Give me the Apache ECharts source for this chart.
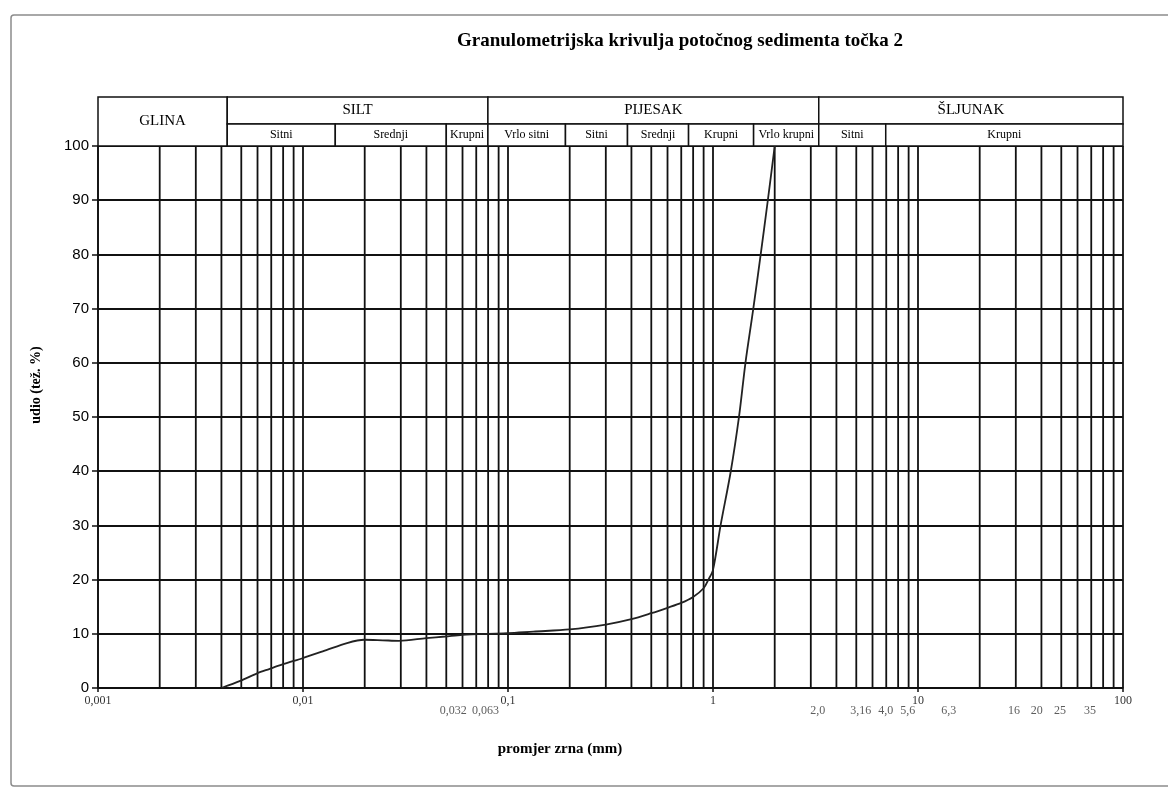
<!DOCTYPE html>
<html>
<head>
<meta charset="utf-8">
<script src="https://cdn.jsdelivr.net/npm/echarts@6/dist/echarts.min.js"></script>
<style>
  html, body { margin: 0; padding: 0; background: #fff; }
  #chart { width: 1168px; height: 789px; }
</style>
</head>
<body>
<div id="chart"></div>
<script>
// Grain size curve (mm -> cumulative wt. %)
const grainSize = [0.004, 0.00494, 0.00597, 0.00684, 0.008, 0.009, 0.0098, 0.013, 0.0164, 0.0199, 0.0245, 0.0294, 0.0399, 0.0494, 0.0599, 0.0794, 0.1, 0.133, 0.2, 0.3, 0.4, 0.5, 0.6, 0.7, 0.8, 0.9, 0.95, 1.0, 1.09, 1.22, 1.34, 1.44, 1.57, 1.71, 1.85, 2.0];
const passing = [0, 1.3, 2.7, 3.5, 4.4, 5.0, 5.4, 7.0, 8.3, 8.9, 8.8, 8.7, 9.2, 9.5, 9.8, 10.0, 10.1, 10.4, 10.8, 11.7, 12.7, 13.8, 14.8, 15.7, 16.8, 18.4, 20.0, 21.8, 30.1, 39.9, 50.1, 60.0, 69.8, 80.1, 89.9, 100];

// Extra size labels under the axis (text, and where they sit on the mm axis)
const extraLabelText = ['0,032', '0,063', '2,0', '3,16', '4,0', '5,6', '6,3', '16', '20', '25', '35'];
const extraLabelAt = [0.0541, 0.0776, 3.24, 5.26, 6.96, 8.92, 14.14, 29.4, 38.0, 49.3, 69.0];

// Header table: soil classes and subclasses with their bounds in mm
const mainClasses = ['GLINA', 'SILT', 'PIJESAK', 'ŠLJUNAK'];
const mainBounds = [0.001, 0.00427, 0.0798, 3.28, 100];
const subClasses = ['Sitni', 'Srednji', 'Krupni', 'Vrlo sitni', 'Sitni', 'Srednji', 'Krupni', 'Vrlo krupni', 'Sitni', 'Krupni'];
const subBounds = [0.00427, 0.01437, 0.05, 0.0798, 0.1907, 0.3828, 0.76, 1.578, 3.28, 6.96, 100];

// Vertical log grid: 1..9 in every decade
const logGrid = [];
for (let d = -3; d <= 1; d++) {
  for (let k = 1; k <= 9; k++) logGrid.push(+(k * Math.pow(10, d)).toPrecision(3));
}
logGrid.push(100);

const SERIF = '"Liberation Serif", "DejaVu Serif", serif';
const SANS = '"Liberation Sans", Arial, sans-serif';
const LINE = '#111';

const GRID = { left: 98, right: 45, top: 146, bottom: 101 };
const ROW1_H = 27;  // class row
const ROW2_H = 22;  // subclass row

// header cells built from the class arrays
const headerCells = [];
mainClasses.forEach((name, i) => {
  const full = mainBounds[i + 1] <= subBounds[0];
  headerCells.push({ x0: mainBounds[i], x1: mainBounds[i + 1], row: full ? 2 : 0, text: name });
});
subClasses.forEach((name, i) => {
  headerCells.push({ x0: subBounds[i], x1: subBounds[i + 1], row: 1, text: name });
});

function fmtNum(v) {
  return String(+v.toPrecision(6)).replace('.', ',');
}

const chart = echarts.init(document.getElementById('chart'), null, { renderer: 'canvas' });

const option = {
  backgroundColor: '#fff',
  animation: false,
  grid: GRID,
  xAxis: {
    type: 'log',
    logBase: 10,
    min: 0.001,
    max: 100,
    splitNumber: 5,
    axisLine: { lineStyle: { color: LINE, width: 1.5 } },
    axisTick: { show: true, length: 4, lineStyle: { color: LINE, width: 1.5 } },
    axisLabel: {
      margin: 7,
      fontFamily: SERIF,
      fontSize: 12,
      color: '#333',
      formatter: v => fmtNum(v)
    },
    splitLine: { show: false }
  },
  yAxis: {
    type: 'value',
    min: 0,
    max: 100,
    interval: 10,
    axisLine: { show: true, lineStyle: { color: LINE, width: 1.5 } },
    axisTick: { show: true, length: 6, lineStyle: { color: LINE, width: 1.5 } },
    axisLabel: { margin: 9, fontFamily: SANS, fontSize: 15, color: '#000' },
    splitLine: { lineStyle: { color: LINE, width: 1.8 } }
  },
  graphic: [
    {
      type: 'rect',
      shape: { x: 11, y: 15, width: 1180, height: 771, r: 3 },
      style: { fill: 'none', stroke: '#8c8c8c', lineWidth: 1.5 },
      silent: true
    },
    {
      type: 'text',
      style: {
        text: 'Granulometrijska krivulja potočnog sedimenta točka 2',
        x: 680, y: 41, align: 'center', verticalAlign: 'middle',
        font: 'bold 19px ' + SERIF, fill: '#000'
      }
    },
    {
      type: 'text',
      style: {
        text: 'promjer zrna (mm)',
        x: 560, y: 749, align: 'center', verticalAlign: 'middle',
        font: 'bold 15px ' + SERIF, fill: '#000'
      }
    },
    {
      type: 'text',
      x: 36, y: 385, rotation: Math.PI / 2,
      style: {
        text: 'udio (tež. %)',
        x: 0, y: 0, align: 'center', verticalAlign: 'middle',
        font: 'bold 14px ' + SERIF, fill: '#000'
      }
    }
  ],
  series: [
    // vertical log grid lines
    {
      name: 'mreža',
      type: 'custom',
      silent: true,
      z: 1,
      data: logGrid.map(v => [v]),
      renderItem: (params, api) => {
        const v = api.value(0);
        const a = api.coord([v, 0]);
        const b = api.coord([v, 100]);
        return {
          type: 'line',
          shape: { x1: a[0], y1: a[1], x2: b[0], y2: b[1] },
          style: { stroke: LINE, lineWidth: 1.8 }
        };
      }
    },
    // grain size curve
    {
      name: 'krivulja',
      type: 'line',
      data: grainSize.map((x, i) => [x, passing[i]]),
      symbol: 'none',
      smooth: 0.3,
      z: 5,
      lineStyle: { color: '#222', width: 1.8 }
    },
    // extra size labels below the axis
    {
      name: 'oznake',
      type: 'scatter',
      data: extraLabelAt.map(x => [x, 0]),
      symbolSize: 1,
      itemStyle: { color: 'transparent' },
      silent: true,
      label: {
        show: true,
        position: 'bottom',
        distance: 16,
        fontFamily: SERIF,
        fontSize: 12,
        color: '#333',
        formatter: p => extraLabelText[p.dataIndex]
      }
    },
    // header table above the plot
    {
      name: 'zaglavlje',
      type: 'custom',
      clip: false,
      silent: true,
      data: headerCells.map(c => [c.x0, c.x1, c.row]),
      renderItem: (params, api) => {
        const c = headerCells[params.dataIndex];
        const p0 = api.coord([c.x0, 100]);
        const p1 = api.coord([c.x1, 100]);
        let y, h, font;
        if (c.row === 0) { y = p0[1] - ROW1_H - ROW2_H; h = ROW1_H; font = '15px ' + SERIF; }
        else if (c.row === 2) { y = p0[1] - ROW1_H - ROW2_H; h = ROW1_H + ROW2_H; font = '15px ' + SERIF; }
        else { y = p0[1] - ROW2_H; h = ROW2_H; font = '12px ' + SERIF; }
        return {
          type: 'group',
          children: [
            {
              type: 'rect',
              shape: { x: p0[0], y: y, width: p1[0] - p0[0], height: h },
              style: { fill: '#fff', stroke: LINE, lineWidth: 1.5 }
            },
            {
              type: 'text',
              style: {
                text: c.text,
                x: (p0[0] + p1[0]) / 2, y: y + h / 2,
                align: 'center', verticalAlign: 'middle',
                font: font, fill: '#000'
              }
            }
          ]
        };
      }
    }
  ]
};

chart.setOption(option);
</script>
</body>
</html>
